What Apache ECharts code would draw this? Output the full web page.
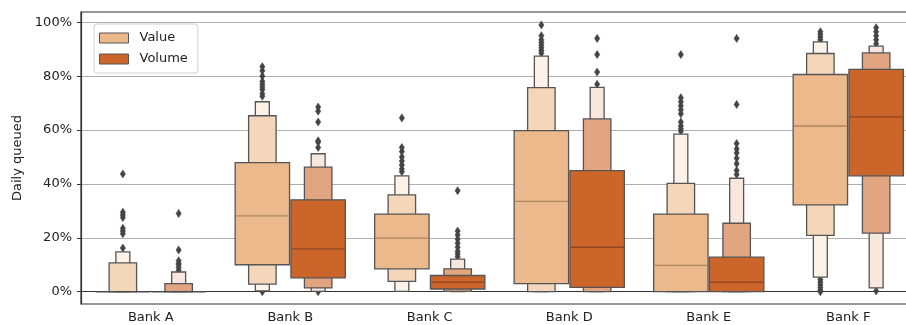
<!DOCTYPE html>
<html>
<head>
<meta charset="utf-8">
<script src="https://cdn.jsdelivr.net/npm/echarts@6/dist/echarts.min.js"></script>
<style>
html,body{margin:0;padding:0;background:#fff;}
#chart{width:906px;height:325px;}
</style>
</head>
<body>
<div id="chart"></div>
<script>
const banks = ['Bank A', 'Bank B', 'Bank C', 'Bank D', 'Bank E', 'Bank F'];
const yTicks = [0, 20, 40, 60, 80, 100];

// Letter-value boxes in percent: [low, high] for levels 1 (IQR), 2, 3
const valueMedian = [0, 28.1, 19.9, 33.5, 9.8, 61.5];
const valueL1 = [[0, 0], [10, 47.9], [8.5, 28.8], [3, 59.8], [0, 28.8], [32.2, 80.6]];
const valueL2 = [[0, 10.7], [2.8, 65.3], [3.8, 35.9], [0, 75.7], [0, 40.2], [20.9, 88.4]];
const valueL3 = [[0, 14.8], [0.3, 70.5], [0.1, 43], [0, 87.4], [0, 58.5], [5.4, 92.7]];
const valueOutliers = [
  [16.2, 21.5, 22.5, 23.5, 27.5, 28.5, 29.5, 43.7],
  [0, 72.5, 73.5, 75, 76, 77, 78, 80, 82, 83.5],
  [44.5, 45.5, 47, 48.5, 50, 52, 53.5, 64.5],
  [88.5, 89.5, 90.5, 91.5, 92.5, 93.5, 95, 99],
  [59.5, 60.5, 61.5, 63, 66, 67.5, 69, 70.5, 72, 88],
  [0, 0.5, 1.5, 2.5, 3.5, 4.5, 93.5, 94.5, 95.5, 96.5]
];

const volumeMedian = [0, 15.9, 3.5, 16.5, 3.5, 64.9];
const volumeL1 = [[0, 0], [5.1, 34.1], [1.0, 6.0], [1.6, 44.9], [0, 12.8], [43, 82.5]];
const volumeL2 = [[0, 3], [1.4, 46.2], [0.1, 8.5], [0, 64.1], [0, 25.4], [21.7, 88.6]];
const volumeL3 = [[0, 7.3], [0.1, 51.2], [0, 12.1], [0, 75.8], [0, 42.1], [1.4, 91.1]];
const volumeOutliers = [
  [8, 9, 10, 10.5, 11.5, 15.5, 29],
  [0, 53.5, 55.5, 56, 63, 67, 68.5],
  [13, 14, 15, 16.5, 18, 19.5, 21, 22.5, 37.5],
  [77, 81.5, 88, 94],
  [43.5, 45, 47.5, 49.5, 51.5, 53, 55, 69.5, 94],
  [0.3, 92, 93.5, 95, 96.5, 98]
];

const valueColors = ['#ebb98b', '#f4d6bb', '#fcf2e8'];
const volumeColors = ['#cc6529', '#e2a582', '#f8e7dd'];
const edgeColor = '#555555';
const widthFrac = [0.39, 0.197, 0.1];

function boxRender(levels, medians, colors, medColor, offset) {
  return function (params, api) {
    const i = params.dataIndex;
    const bw = api.size([1, 0])[0];
    const cx = api.coord([i, 0])[0] + offset * bw;
    const children = [];
    for (let k = levels.length - 1; k >= 0; k--) {
      const lv = levels[k][i];
      const yTop = api.coord([i, lv[1]])[1];
      const yBot = api.coord([i, lv[0]])[1];
      const w = widthFrac[k] * bw;
      if (yBot - yTop < 0.5) {
        children.push({
          type: 'rect',
          shape: { x: cx - w / 2, y: yTop - 0.8, width: w, height: 1.6 },
          style: { fill: '#4a4a4a' }
        });
      } else {
        children.push({
          type: 'rect',
          shape: { x: cx - w / 2, y: yTop, width: w, height: yBot - yTop },
          style: { fill: colors[k], stroke: edgeColor, lineWidth: 1.3 }
        });
      }
    }
    const ym = api.coord([i, medians[i]])[1];
    const w0 = widthFrac[0] * bw;
    if (levels[0][i][1] > levels[0][i][0]) {
      children.push({
        type: 'line',
        shape: { x1: cx - w0 / 2 + 0.7, y1: ym, x2: cx + w0 / 2 - 0.7, y2: ym },
        style: { stroke: medColor, lineWidth: 1.3 }
      });
    }
    return { type: 'group', children: children };
  };
}

function outlierData(list) {
  const d = [];
  list.forEach((arr, i) => arr.forEach(v => d.push([i, v])));
  return d;
}

function outlierRender(offset) {
  return function (params, api) {
    const bw = api.size([1, 0])[0];
    const p = api.coord([api.value(0), api.value(1)]);
    const cx = p[0] + offset * bw, cy = p[1];
    return {
      type: 'polygon',
      shape: { points: [[cx, cy - 4], [cx + 2.6, cy], [cx, cy + 4], [cx - 2.6, cy]] },
      style: { fill: '#444444', stroke: '#444444', lineWidth: 0.6 }
    };
  };
}

const chart = echarts.init(document.getElementById('chart'), null, { renderer: 'canvas' });
const font = 'DejaVu Sans';
chart.setOption({
  animation: false,
  backgroundColor: '#ffffff',
  textStyle: { fontFamily: font },
  grid: {
    left: 81, top: 12, width: 837, height: 292,
    outerBoundsMode: 'none',
    containLabel: false,
    show: true, borderColor: '#333333', borderWidth: 1.2, backgroundColor: 'transparent'
  },
  legend: {
    left: 94, top: 24,
    orient: 'vertical',
    padding: [6, 10, 6, 5],
    itemGap: 5,
    itemWidth: 29, itemHeight: 10,
    backgroundColor: 'rgba(255,255,255,0.8)',
    borderColor: '#d0d0d0', borderWidth: 1, borderRadius: 3,
    textStyle: { fontFamily: font, fontSize: 13, color: '#222', lineHeight: 16, padding: [0, 0, 0, 6] },
    data: [
      { name: 'Value', icon: 'rect', itemStyle: { color: valueColors[0], borderColor: edgeColor, borderWidth: 1 } },
      { name: 'Volume', icon: 'rect', itemStyle: { color: volumeColors[0], borderColor: edgeColor, borderWidth: 1 } }
    ]
  },
  xAxis: {
    type: 'category',
    data: banks,
    boundaryGap: true,
    axisLine: { lineStyle: { color: '#333333', width: 1.2 } },
    axisTick: { alignWithLabel: true, length: 4, lineStyle: { color: '#333333', width: 1 } },
    axisLabel: { fontFamily: font, fontSize: 13, color: '#222', margin: 7 },
    splitLine: { show: false }
  },
  yAxis: {
    type: 'value',
    min: -4.57, max: 103.8,
    name: 'Daily queued',
    nameLocation: 'middle',
    nameRotate: 90,
    nameGap: 55,
    nameTextStyle: { fontFamily: font, fontSize: 13, color: '#222' },
    axisLine: { show: true, lineStyle: { color: '#333333', width: 1.2 } },
    axisTick: { show: true, length: 4, customValues: yTicks, lineStyle: { color: '#333333', width: 1 } },
    axisLabel: { fontFamily: font, fontSize: 13, color: '#222', margin: 9, customValues: yTicks, formatter: '{value}%' },
    splitLine: { show: true, lineStyle: { color: '#b0b0b0', width: 1 } }
  },
  series: [
    {
      name: 'ValueOut', type: 'custom', z: 2,
      renderItem: outlierRender(-0.2), data: outlierData(valueOutliers), silent: true
    },
    {
      name: 'VolumeOut', type: 'custom', z: 2,
      renderItem: outlierRender(0.2), data: outlierData(volumeOutliers), silent: true
    },
    {
      name: 'Value', type: 'custom', z: 3,
      itemStyle: { color: valueColors[0] },
      renderItem: boxRender([valueL1, valueL2, valueL3], valueMedian, valueColors, '#b08562', -0.2),
      data: banks.map((b, i) => [i])
    },
    {
      name: 'Volume', type: 'custom', z: 3,
      itemStyle: { color: volumeColors[0] },
      renderItem: boxRender([volumeL1, volumeL2, volumeL3], volumeMedian, volumeColors, '#8e4721', 0.2),
      data: banks.map((b, i) => [i])
    }
  ]
});
</script>
</body>
</html>
